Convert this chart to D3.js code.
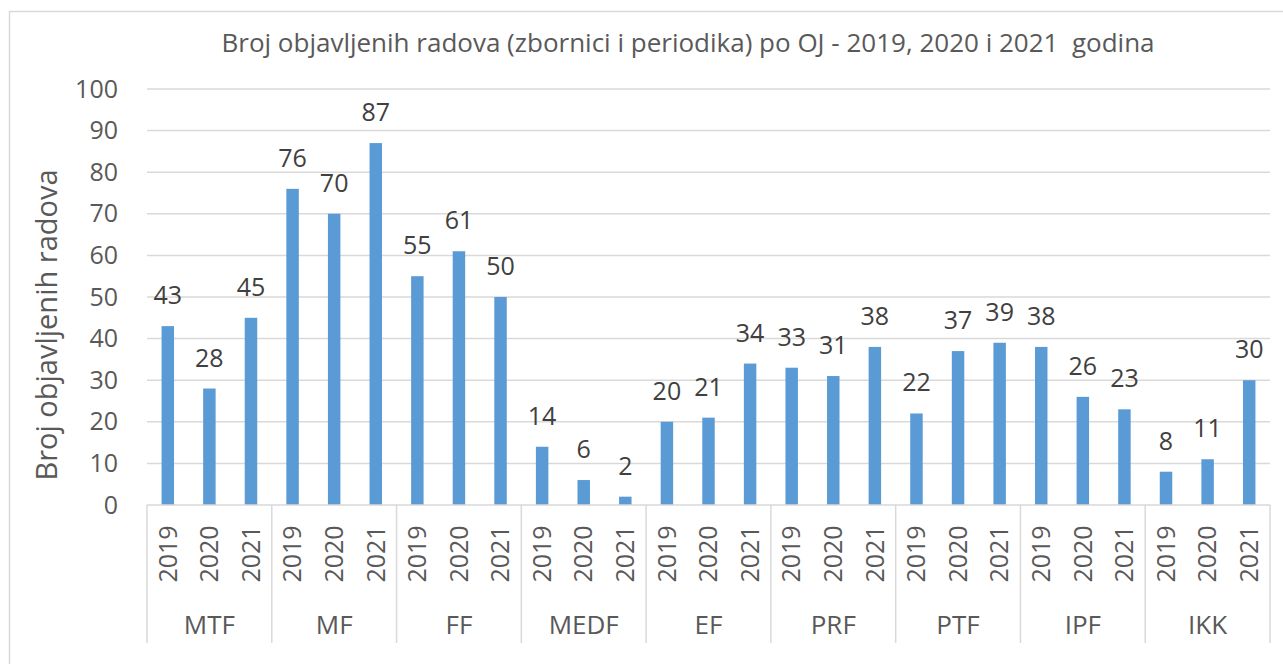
<!DOCTYPE html>
<html>
<head>
<meta charset="utf-8">
<script src="https://cdn.jsdelivr.net/npm/d3@7"></script>
<style>
  body { margin: 0; background: #fff; }
  svg { display: block; font-family: "Open Sans", sans-serif; }
</style>
</head>
<body>
<svg width="1283" height="664"></svg>
<script>
// data
var groups = ["MTF", "MF", "FF", "MEDF", "EF", "PRF", "PTF", "IPF", "IKK"];
var years = ["2019", "2020", "2021"];
var values2019 = [43, 76, 55, 14, 20, 33, 22, 38, 8];
var values2020 = [28, 70, 61, 6, 21, 31, 37, 26, 11];
var values2021 = [45, 87, 50, 2, 34, 38, 39, 23, 30];
var yTicks = [0, 10, 20, 30, 40, 50, 60, 70, 80, 90, 100];

var rows = [];
groups.forEach(function (g, i) {
  rows.push({ group: g, year: "2019", value: values2019[i] });
  rows.push({ group: g, year: "2020", value: values2020[i] });
  rows.push({ group: g, year: "2021", value: values2021[i] });
});

var svg = d3.select("svg");
var plotLeft = 147, plotRight = 1270, plotTop = 89, plotBottom = 505;

// chart frame
svg.append("rect")
  .attr("x", 9.5).attr("y", 11.5)
  .attr("width", 1300).attr("height", 700)
  .attr("fill", "none").attr("stroke", "#d9d9d9").attr("stroke-width", 1.5);

var x0 = d3.scaleBand().domain(groups).range([plotLeft, plotRight]).padding(0);
var x1 = d3.scaleBand().domain(years).range([0, x0.bandwidth()])
  .paddingInner(0.7).paddingOuter(0.35);
var y = d3.scaleLinear().domain([0, 100]).range([plotBottom, plotTop]);

// title
svg.append("text")
  .attr("x", 688).attr("y", 52)
  .attr("text-anchor", "middle")
  .attr("font-size", "26px")
  .attr("fill", "#595959")
  .style("white-space", "pre")
  .text("Broj objavljenih radova (zbornici i periodika) po OJ - 2019, 2020 i 2021  godina");

// grid
svg.append("g").selectAll("line")
  .data(yTicks.slice(1))
  .enter().append("line")
  .attr("x1", plotLeft).attr("x2", plotRight)
  .attr("y1", function (d) { return y(d); })
  .attr("y2", function (d) { return y(d); })
  .attr("stroke", "#d9d9d9").attr("stroke-width", 1.5);

// y axis labels
var yAxis = svg.append("g")
  .attr("transform", "translate(" + plotLeft + ",0)")
  .call(d3.axisLeft(y).tickValues(yTicks).tickSize(0).tickPadding(29));
yAxis.select(".domain").remove();
yAxis.selectAll("text")
  .attr("font-size", "25px")
  .attr("fill", "#595959")
  .attr("font-family", "Open Sans, sans-serif");

svg.append("text")
  .attr("transform", "translate(57,325) rotate(-90)")
  .attr("text-anchor", "middle")
  .attr("font-size", "29px")
  .attr("fill", "#595959")
  .text("Broj objavljenih radova");

// bars
svg.append("g").selectAll("rect")
  .data(rows)
  .enter().append("rect")
  .attr("x", function (d) { return x0(d.group) + x1(d.year); })
  .attr("y", function (d) { return y(d.value); })
  .attr("width", x1.bandwidth())
  .attr("height", function (d) { return plotBottom - y(d.value); })
  .attr("fill", "#5b9bd5");

// data labels
svg.append("g").selectAll("text")
  .data(rows)
  .enter().append("text")
  .attr("x", function (d) { return x0(d.group) + x1(d.year) + x1.bandwidth() / 2; })
  .attr("y", function (d) { return y(d.value) - 22; })
  .attr("text-anchor", "middle")
  .attr("font-size", "25px")
  .attr("fill", "#404040")
  .text(function (d) { return d.value; });

// x axis line
svg.append("line")
  .attr("x1", plotLeft).attr("x2", plotRight)
  .attr("y1", plotBottom).attr("y2", plotBottom)
  .attr("stroke", "#d9d9d9").attr("stroke-width", 1.5);

// group separators
svg.append("g").selectAll("line")
  .data(groups.concat(["end"]))
  .enter().append("line")
  .attr("x1", function (d, i) { return i < groups.length ? x0(d) : plotRight; })
  .attr("x2", function (d, i) { return i < groups.length ? x0(d) : plotRight; })
  .attr("y1", plotBottom).attr("y2", 643)
  .attr("stroke", "#d9d9d9").attr("stroke-width", 1.5);

// year labels
svg.append("g").selectAll("text")
  .data(rows)
  .enter().append("text")
  .attr("transform", function (d) {
    var cx = x0(d.group) + x1(d.year) + x1.bandwidth() / 2;
    return "translate(" + cx + ",554) rotate(-90)";
  })
  .attr("text-anchor", "middle")
  .attr("dy", "0.35em")
  .attr("font-size", "25px")
  .attr("fill", "#595959")
  .text(function (d) { return d.year; });

// group labels
svg.append("g").selectAll("text")
  .data(groups)
  .enter().append("text")
  .attr("x", function (d) { return x0(d) + x0.bandwidth() / 2; })
  .attr("y", 634)
  .attr("text-anchor", "middle")
  .attr("font-size", "26px")
  .attr("fill", "#595959")
  .text(function (d) { return d; });
</script>
</body>
</html>
